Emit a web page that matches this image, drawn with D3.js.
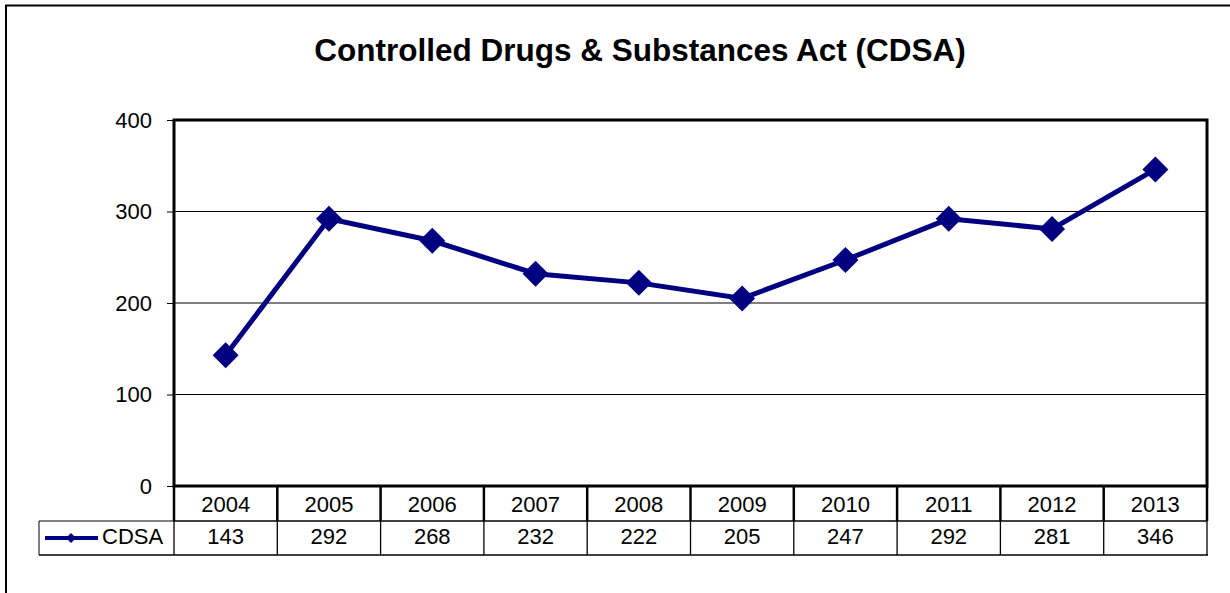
<!DOCTYPE html>
<html>
<head>
<meta charset="utf-8">
<style>
  body { margin: 0; background: #fff; }
  text { font-family: "Liberation Sans", Arial, sans-serif; }
</style>
</head>
<body>
<script src="https://cdn.jsdelivr.net/npm/d3@7"></script>
<script>
    // Data
    let years = ["2004", "2005", "2006", "2007", "2008", "2009", "2010", "2011", "2012", "2013"];
    let cdsa = [143, 292, 268, 232, 222, 205, 247, 292, 281, 346];
    let yTicks = [0, 100, 200, 300, 400];
    let seriesName = "CDSA";

    let W = 1230, H = 593;
    let plot = { left: 174, right: 1207, top: 120, bottom: 486 };
    let navy = "#000080";
    let fs = 22;

    let svg = d3.select("body").append("svg")
        .attr("width", W)
        .attr("height", H);

    // outer frame (top + left edge visible)
    svg.append("path")
        .attr("d", `M6,${H} V5.5 H${W}`)
        .attr("fill", "none")
        .attr("stroke", "#000")
        .attr("stroke-width", 2);

    // Title
    svg.append("text")
        .attr("x", 640)
        .attr("y", 61)
        .attr("text-anchor", "middle")
        .attr("font-size", 31.5)
        .attr("font-weight", "bold")
        .text("Controlled Drugs & Substances Act (CDSA)");

    let x = d3.scaleBand().domain(years).range([plot.left, plot.right]);
    let y = d3.scaleLinear().domain([0, 400]).range([plot.bottom, plot.top]);

    // gridlines
    svg.append("g")
        .selectAll("line")
        .data(yTicks.slice(1, -1))
        .join("line")
        .attr("x1", plot.left)
        .attr("x2", plot.right)
        .attr("y1", d => y(d))
        .attr("y2", d => y(d))
        .attr("stroke", "#000")
        .attr("stroke-width", 1);

    // y axis
    let yAxis = svg.append("g")
        .attr("transform", `translate(${plot.left},0)`)
        .call(d3.axisLeft(y).tickValues(yTicks).tickSize(7).tickPadding(15));
    yAxis.select(".domain").remove();
    yAxis.selectAll("line").attr("stroke", "#000");
    yAxis.selectAll("text")
        .attr("font-size", fs)
        .attr("fill", "#000")
        .style("font-family", "'Liberation Sans', Arial, sans-serif");

    // plot frame
    svg.append("rect")
        .attr("x", plot.left)
        .attr("y", plot.top)
        .attr("width", plot.right - plot.left)
        .attr("height", plot.bottom - plot.top)
        .attr("fill", "none")
        .attr("stroke", "#000")
        .attr("stroke-width", 3);

    // line
    let cx = d => x(d) + x.bandwidth() / 2;
    svg.append("path")
        .datum(cdsa)
        .attr("d", d3.line().x((d, i) => cx(years[i])).y(d => y(d)))
        .attr("fill", "none")
        .attr("stroke", navy)
        .attr("stroke-width", 5);

    let diamond = s => `M0,${-s} L${s},0 L0,${s} L${-s},0 Z`;
    svg.append("g")
        .selectAll("path")
        .data(cdsa)
        .join("path")
        .attr("transform", (d, i) => `translate(${cx(years[i])},${y(d)})`)
        .attr("d", diamond(13))
        .attr("fill", navy);

    // data table
    let row1 = { top: plot.bottom, bottom: 521 };
    let row2 = { top: 521, bottom: 555 };
    let legLeft = 39;

    let table = svg.append("g");
    // horizontal lines
    table.append("line").attr("x1", plot.left).attr("x2", plot.right)
        .attr("y1", row1.bottom).attr("y2", row1.bottom).attr("stroke", "#000").attr("stroke-width", 1.5);
    table.append("line").attr("x1", legLeft).attr("x2", plot.left)
        .attr("y1", row2.top).attr("y2", row2.top).attr("stroke", "#000").attr("stroke-width", 1);
    table.append("line").attr("x1", legLeft).attr("x2", plot.right + 1)
        .attr("y1", row2.bottom).attr("y2", row2.bottom).attr("stroke", "#000").attr("stroke-width", 1.5);
    table.append("line").attr("x1", legLeft).attr("x2", legLeft)
        .attr("y1", row2.top).attr("y2", row2.bottom).attr("stroke", "#000").attr("stroke-width", 1);

    // vertical dividers
    let edges = years.map(d => x(d)).concat([plot.right]);
    table.selectAll(".v1")
        .data(edges)
        .join("line")
        .attr("x1", d => d).attr("x2", d => d)
        .attr("y1", row1.top).attr("y2", row1.bottom)
        .attr("stroke", "#000").attr("stroke-width", 2.5);
    table.selectAll(".v2")
        .data(edges)
        .join("line")
        .attr("x1", d => d).attr("x2", d => d)
        .attr("y1", row2.top).attr("y2", row2.bottom)
        .attr("stroke", "#000").attr("stroke-width", 1.3);

    table.selectAll(".yr")
        .data(years)
        .join("text")
        .attr("x", d => cx(d))
        .attr("y", row1.bottom - 9.5)
        .attr("text-anchor", "middle")
        .attr("font-size", fs)
        .text(d => d);

    table.selectAll(".val")
        .data(cdsa)
        .join("text")
        .attr("x", (d, i) => cx(years[i]))
        .attr("y", row2.bottom - 11)
        .attr("text-anchor", "middle")
        .attr("font-size", fs)
        .text(d => d);

    // legend key
    let ly = (row2.top + row2.bottom) / 2;
    table.append("line")
        .attr("x1", 45).attr("x2", 98)
        .attr("y1", ly).attr("y2", ly)
        .attr("stroke", navy).attr("stroke-width", 4);
    table.append("path")
        .attr("transform", `translate(71,${ly})`)
        .attr("d", diamond(5))
        .attr("fill", navy);
    table.append("text")
        .attr("x", 102)
        .attr("y", row2.bottom - 11)
        .attr("font-size", fs)
        .text(seriesName);
</script>
</body>
</html>
